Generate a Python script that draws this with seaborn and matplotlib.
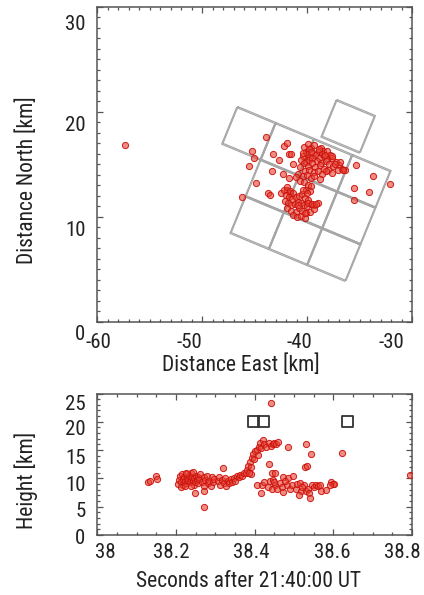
import numpy as np
import pandas as pd
import seaborn as sns
import matplotlib.pyplot as plt
from matplotlib import font_manager
from matplotlib.ticker import MultipleLocator
from matplotlib.transforms import ScaledTranslation

sns.set_style("ticks")

# a narrow sans is closest to the original lettering; fall back if missing
fonts = font_manager.fontManager.ttflist
names = {f.name for f in fonts}
if "Liberation Sans Narrow" in names:
    family, fs_tick, fs_lab, stretch = "Liberation Sans Narrow", 15.5, 16, "normal"
elif "Roboto Condensed" in names:
    family, fs_tick, fs_lab, stretch = "Roboto Condensed", 15, 15.5, "normal"
elif any(f.name == "DejaVu Sans" and f.stretch == "condensed" for f in fonts):
    family, fs_tick, fs_lab, stretch = "DejaVu Sans", 13.5, 14, "condensed"
else:
    family, fs_tick, fs_lab, stretch = "Roboto", 13.5, 13.5, "normal"
plt.rcParams["font.family"] = [family, "DejaVu Sans"]
plt.rcParams["font.stretch"] = stretch
plt.rcParams["axes.unicode_minus"] = False

# --- top panel: source positions (km) ---
east = [-57.4,
        -43.96, -45.30, -45.08, -45.58, -46.18, -44.89, -43.39, -43.27, -42.70, -42.19,
        -41.90, -41.77, -41.55, -41.39, -42.28, -41.71, -43.71, -43.55, -42.50, -41.96, -41.64,
        # upper cluster
        -40.3, -39.9, -39.6, -39.3, -38.7, -38.5, -40.1, -39.8, -39.4, -38.9, -38.6, -38.1, -37.8,
        -40.4, -40.0, -39.7, -39.2, -38.9, -38.4, -38.1, -37.6, -37.2, -40.6, -40.1, -39.8, -39.5,
        -39.1, -38.7, -38.2, -37.9, -37.5, -37.0, -40.3, -39.9, -39.5, -39.2, -38.8, -38.4, -38.0,
        -40.7, -40.2, -39.8, -39.3, -39.0, -38.6, -38.2, -40.9, -40.4, -40.0, -39.6, -39.3, -38.8,
        -41.1, -40.7, -40.3, -39.9, -39.6, -40.1, -39.7, -40.4, -39.6, -38.9, -38.3, -37.6, -36.9,
        -36.7,
        # right scatter
        -36.41, -37.05, -37.37, -35.30, -33.72, -32.13, -34.10, -35.52, -35.52, -37.6, -36.57,
        # lower cluster
        -42.2, -41.9, -41.6, -41.3, -42.0, -41.7, -41.4, -41.1, -40.8, -40.5, -40.2, -39.9,
        -42.1, -41.8, -41.5, -41.2, -40.9, -40.6, -40.3, -40.0, -39.6, -39.3, -39.0, -41.9,
        -41.5, -41.1, -40.8, -40.5, -40.1, -39.7, -39.3, -41.3, -41.0, -40.6, -40.2, -40.85,
        -39.9, -39.49, -39.14, -40.2, -40.4, -40.0]
north = [16.8,
         17.62, 16.29, 15.56, 14.86, 11.90, 13.18, 14.38, 15.97, 15.40, 16.76,
         17.08, 16.03, 16.03, 15.02, 14.07, 13.72, 12.29, 12.07, 12.29, 12.54, 12.29,
         16.7, 16.9, 16.6, 16.8, 16.6, 16.3, 16.2, 16.5, 16.1, 16.3, 16.0, 16.3, 15.9,
         15.8, 16.0, 15.7, 15.9, 15.6, 15.8, 15.5, 15.6, 15.2, 15.4, 15.2, 15.4, 15.6,
         15.3, 15.1, 15.3, 15.0, 14.8, 14.9, 15.1, 14.8, 15.1, 14.7, 14.9, 14.6, 14.5,
         14.7, 14.4, 14.5, 14.3, 14.4, 14.1, 14.4, 14.1, 13.9, 14.0, 13.7, 13.9, 13.6,
         13.8, 13.4, 13.3, 13.0, 12.9, 12.6, 12.5, 16.1, 16.2, 16.5, 15.9, 15.8, 15.2,
         14.6,
         14.45, 14.45, 15.08, 14.93, 13.90, 13.17, 12.38, 12.70, 11.60, 14.2, 14.45,
         12.6, 12.8, 12.5, 12.3, 12.1, 11.9, 11.7, 11.9, 12.0, 12.2, 11.8, 11.6,
         11.5, 11.3, 11.1, 11.2, 11.4, 11.3, 11.1, 11.0, 11.2, 11.1, 11.3, 10.8,
         10.6, 10.5, 10.8, 10.6, 10.4, 10.5, 10.7, 10.2, 10.0, 10.1, 9.9, 11.11,
         11.27, 11.2, 11.2, 10.4, 12.6, 12.3]

# observation footprints as lattice indices (column, row)
tile_col = [0, 1, 2, 3, 2.15, 1, 2, 3, 1, 2, 3]
tile_row = [0, 0, 0, 0, -1.13, 1, 1, 1, 2, 2, 2]

# --- bottom panel: time vs height ---
seconds = [38.130, 38.133, 38.150, 38.152,
           38.205, 38.208, 38.211, 38.213, 38.215, 38.217, 38.219, 38.221, 38.223, 38.225,
           38.227, 38.229, 38.231, 38.233, 38.235, 38.237, 38.239, 38.241, 38.243, 38.245,
           38.247, 38.249, 38.251, 38.253, 38.255, 38.257, 38.259, 38.212, 38.222, 38.238,
           38.249, 38.262, 38.244, 38.226,
           38.266, 38.270, 38.272, 38.275, 38.279, 38.282, 38.285, 38.288, 38.291, 38.294,
           38.297, 38.272, 38.272, 38.306, 38.310, 38.313, 38.316, 38.320, 38.322, 38.325,
           38.328, 38.331, 38.335, 38.339, 38.343, 38.347, 38.351, 38.355, 38.359, 38.363,
           38.367, 38.372, 38.377,
           38.380, 38.384, 38.387, 38.390, 38.393, 38.396, 38.399, 38.402, 38.405, 38.408,
           38.411, 38.414, 38.417, 38.420, 38.391, 38.385,
           38.425, 38.430, 38.436, 38.441, 38.446, 38.450, 38.455, 38.460, 38.486, 38.531,
           38.544, 38.529, 38.533, 38.622, 38.796, 38.442,
           38.437, 38.445, 38.452, 38.473, 38.486, 38.498,
           38.406, 38.419, 38.417, 38.423, 38.440, 38.446, 38.435, 38.444, 38.452, 38.456,
           38.465, 38.469, 38.473, 38.482, 38.490, 38.494, 38.505, 38.508, 38.515, 38.517,
           38.513, 38.526, 38.530, 38.535, 38.539, 38.541, 38.545, 38.551, 38.555, 38.560,
           38.569, 38.582, 38.594, 38.598, 38.602, 38.592, 38.450, 38.478, 38.520, 38.565]
height = [9.4, 9.6, 10.5, 9.9,
          9.0, 9.8, 10.4, 9.4, 10.8, 8.9, 9.9, 10.2, 9.5, 10.7,
          9.1, 10.0, 9.7, 10.4, 9.3, 10.9, 9.9, 10.3, 9.6, 10.1,
          8.9, 9.4, 10.5, 9.8, 10.2, 9.2, 9.9, 8.5, 8.7, 8.6,
          7.4, 10.7, 11.2, 11.0,
          9.3, 10.3, 8.7, 9.8, 10.4, 9.1, 9.6, 8.6, 10.2, 9.4,
          9.9, 7.8, 4.9, 9.5, 10.3, 8.8, 9.7, 11.8, 9.2, 10.1,
          8.7, 9.5, 9.1, 9.9, 9.4, 10.0, 9.6, 10.4, 10.2, 10.6,
          10.5, 10.9, 11.0,
          11.4, 12.2, 12.9, 12.1, 13.6, 14.3, 13.4, 14.8, 15.0, 14.1,
          15.6, 16.2, 15.4, 16.8, 10.7, 11.0,
          16.0, 15.6, 16.2, 15.7, 16.1, 16.3, 16.0, 16.4, 15.6, 16.0,
          14.3, 12.1, 12.2, 14.4, 10.6, 23.3,
          12.5, 11.0, 10.9, 10.3, 10.1, 10.5,
          8.8, 8.8, 7.5, 9.4, 9.5, 9.7, 8.5, 8.2, 8.8, 8.1,
          9.2, 8.5, 7.6, 8.8, 8.2, 8.8, 8.2, 9.0, 9.2, 7.7,
          7.1, 8.8, 7.7, 8.2, 7.4, 6.5, 8.8, 8.4, 8.8, 8.6,
          7.7, 8.0, 9.4, 9.0, 9.0, 8.8, 9.3, 9.6, 8.5, 8.9]

obs_seconds = [38.398, 38.423, 38.637]
obs_height = [20, 20, 20]

top = pd.DataFrame({"east": east, "north": north})
bottom = pd.DataFrame({"seconds": seconds, "height": height})
obs = pd.DataFrame({"seconds": obs_seconds, "height": obs_height})

W, H = 424, 595
fig = plt.figure(figsize=(W / 100, H / 100), dpi=100)
ax1 = fig.add_axes([97.3 / W, 1 - 321.7 / H, 314.7 / W, 314.7 / H])
ax2 = fig.add_axes([97.3 / W, 1 - 535 / H, 314.7 / W, 141.5 / H])

fill = (0.90, 0.25, 0.20, 0.6)
ring = (0.80, 0.08, 0.05, 0.95)

# footprint squares
origin = np.array([-46.72, 20.42])
u = np.array([3.65, -1.524])
v = np.array([-1.429, -3.492])
for c, r in zip(tile_col, tile_row):
    tl = origin + c * u + r * v
    poly = np.array([tl, tl + u, tl + u + v, tl + v, tl])
    for off in (0.0, 0.13):
        ax1.plot(poly[:, 0] + off, poly[:, 1] + off * 0.6, color="#a4a4a4", lw=0.85, zorder=1)

sns.scatterplot(data=top, x="east", y="north", ax=ax1, s=20, facecolor=fill,
                edgecolor=ring, linewidth=0.7, zorder=3)
ax1.set_xlim(-60, -30)
ax1.set_ylim(0, 30)
ax1.set_xticks([-60, -50, -40, -30])
ax1.set_yticks([0, 10, 20, 30])
ax1.xaxis.set_minor_locator(MultipleLocator(1))
ax1.yaxis.set_minor_locator(MultipleLocator(1))

sns.scatterplot(data=bottom, x="seconds", y="height", ax=ax2, s=20, facecolor=fill,
                edgecolor=ring, linewidth=0.7, zorder=3)
sns.scatterplot(data=obs, x="seconds", y="height", ax=ax2, marker="s", s=62,
                facecolor="none", edgecolor="#333333", linewidth=1.3, zorder=4)
ax2.set_xlim(38, 38.8)
ax2.set_ylim(0, 25)
ax2.set_xticks([38, 38.2, 38.4, 38.6, 38.8])
ax2.set_xticklabels(["38", "38.2", "38.4", "38.6", "38.8"])
ax2.set_yticks([0, 5, 10, 15, 20, 25])
ax2.xaxis.set_minor_locator(MultipleLocator(0.05))
ax2.yaxis.set_minor_locator(MultipleLocator(1))

for ax in (ax1, ax2):
    for s in ax.spines.values():
        s.set_color("#555555")
        s.set_linewidth(1.1)
    ax.tick_params(which="both", direction="in", top=True, right=True,
                   color="#555555", width=0.9, labelsize=fs_tick, labelcolor="#222222")
    ax.tick_params(which="major", length=4)
    ax.tick_params(which="minor", length=2.2)
    ax.tick_params(axis="y", pad=8.5)

ax1.tick_params(axis="x", pad=8)
ax2.tick_params(axis="x", pad=6)

ax1.set_xlabel("Distance East [km]", fontsize=fs_lab, color="#222222")
ax1.set_ylabel("Distance North [km]", fontsize=fs_lab, color="#222222")
ax2.set_xlabel("Seconds after 21:40:00 UT", fontsize=fs_lab, color="#222222")
ax2.set_ylabel("Height [km]", fontsize=fs_lab, color="#222222")
ax1.xaxis.set_label_coords(0.457, -0.103)
ax1.yaxis.set_label_coords(-0.188, 0.45)
ax2.xaxis.set_label_coords(0.482, -0.254)
ax2.yaxis.set_label_coords(-0.188, 0.389)


def shift(labels, dx, dy):
    for lbl, a, b in zip(labels, dx, dy):
        lbl.set_transform(lbl.get_transform()
                          + ScaledTranslation(a / 100, -b / 100, fig.dpi_scale_trans))


shift(ax1.get_xticklabels(), [1, -13, -8, -21], [0, 0, 0, 0])
shift(ax1.get_yticklabels(), [0, 0, 0, 0], [11, 12, 12, 15])
shift(ax2.get_xticklabels(), [8, -5, -3, -1, -10], [0, 0, 0, 0, 0])
shift(ax2.get_yticklabels(), [0] * 6, [2, 3, 5, 6, 6, 9])

fig.savefig("out.png", dpi=100)
